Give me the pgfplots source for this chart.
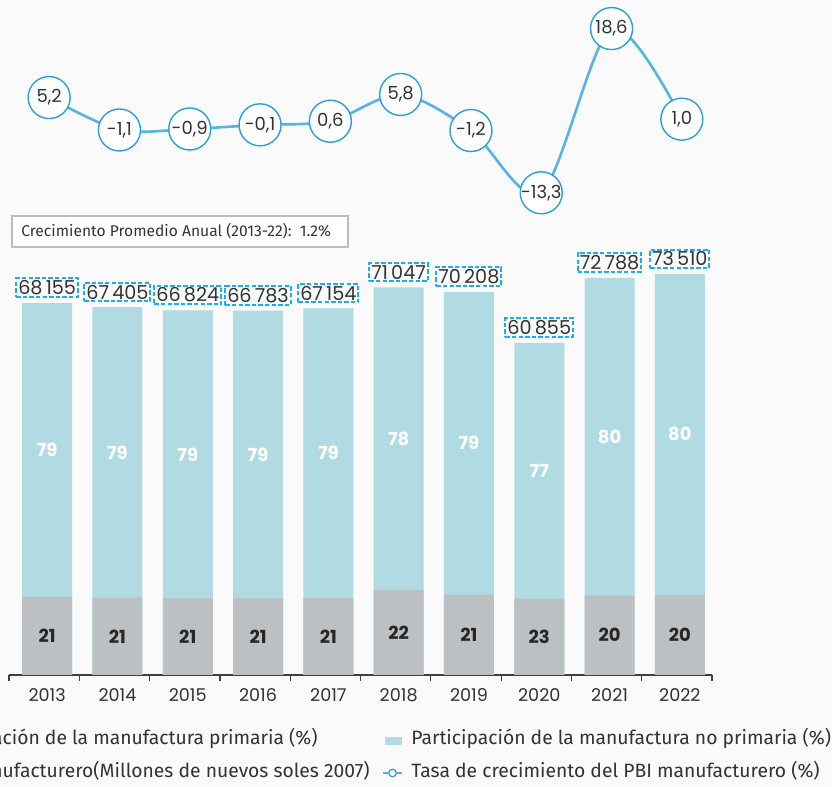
\documentclass[border=0pt]{standalone}
\usepackage{fontspec}
\setmainfont{Fira Sans}
\newfontfamily\numfont{Poppins}
\usepackage{pgfplots}
\usepackage{pgfplotstable}
\pgfplotsset{compat=1.18}

\definecolor{bgc}{HTML}{FAFAFA}
\definecolor{nopri}{HTML}{B0DBE3}
\definecolor{pri}{HTML}{BCC0C3}
\definecolor{boxblue}{HTML}{1AAEEF}
\definecolor{linblue}{HTML}{56B4E5}
\definecolor{circblue}{HTML}{2A9FDC}
\definecolor{txt}{HTML}{333333}
\definecolor{frame}{HTML}{BDBDBD}

% PBI manufacturero y participaciones (%)
\pgfplotstableread{
idx pbi   pbilab   pp np
0   68155 68\,155  21 79
1   67405 67\,405  21 79
2   66824 66\,824  21 79
3   66783 66\,783  21 79
4   67154 67\,154  21 79
5   71047 71\,047  22 78
6   70208 70\,208  21 79
7   60855 60\,855  23 77
8   72788 72\,788  20 80
9   73510 73\,510  20 80
}\bars

% tasa de crecimiento (%)
\pgfplotstableread{
idx tasa  lab
0   5.2   5,2
1   -1.1  -1,1
2   -0.9  -0,9
3   -0.1  -0,1
4   0.6   0,6
5   5.8   5,8
6   -1.2  -1,2
7   -13.3 -13,3
8   18.6  18,6
9   1.0   1,0
}\tasa

\begin{document}
\begin{tikzpicture}
\fill[bgc] (0,0) rectangle (416pt,393.5pt);

% barras
\begin{axis}[
    at={(4.5pt,56pt)}, anchor=south west,
    scale only axis, width=351.5pt, height=218.3pt,
    xmin=-0.5, xmax=9.5, ymin=0, ymax=80000,
    axis x line*=bottom, axis y line=none,
    x axis line style={draw=black!75, line width=0.6pt, -},
    xtick={0,...,9},
    xticklabels={2013,2014,2015,2016,2017,2018,2019,2020,2021,2022},
    major x tick style={draw=none},
    minor xtick={-0.5,0.5,...,9.5},
    minor tick length=3pt, tick align=outside, xtick pos=bottom,
    minor x tick style={draw=black!75, line width=0.6pt},
    xticklabel style={font=\numfont\fontsize{8.8}{10}\selectfont, text=txt,
        anchor=center, xshift=1.5pt, yshift=-5.8pt},
    clip=false,
]
\addplot[ybar, bar width=25pt, bar shift=1.5pt, fill=nopri, draw=none]
    table[x=idx, y=pbi]{\bars};
\addplot[ybar, bar width=25pt, bar shift=1.5pt, fill=pri, draw=none]
    table[x=idx, y expr=\thisrow{pbi}*\thisrow{pp}/100]{\bars};
% etiquetas
\addplot[only marks, mark=none, point meta=explicit symbolic, nodes near coords,
    every node near coord/.append style={anchor=south, xshift=1.5pt, yshift=2.5pt,
        draw=boxblue, line width=1pt, dash pattern=on 2.2pt off 1.1pt,
        inner sep=1pt, font=\numfont\fontsize{9.6}{10}\selectfont, text=txt}]
    table[x=idx, y=pbi, meta=pbilab]{\bars};
\addplot[only marks, mark=none, point meta=explicit symbolic, nodes near coords,
    every node near coord/.append style={anchor=center, xshift=1.5pt,
        font=\numfont\bfseries\fontsize{9}{10}\selectfont, text=white}]
    table[x=idx, y expr=\thisrow{pbi}*(\thisrow{pp}+100)/200, meta=np]{\bars};
\addplot[only marks, mark=none, point meta=explicit symbolic, nodes near coords,
    every node near coord/.append style={anchor=center, xshift=1.5pt,
        font=\numfont\bfseries\fontsize{9}{10}\selectfont, text=black!85}]
    table[x=idx, y expr=\thisrow{pbi}*\thisrow{pp}/200, meta=pp]{\bars};
\end{axis}

% linea de crecimiento
\begin{axis}[
    at={(7pt,279.85pt)}, anchor=south west,
    scale only axis, width=351.5pt, height=115.85pt,
    xmin=-0.5, xmax=9.5, ymin=-20, ymax=25,
    hide axis, clip=false,
]
\addplot[linblue, line width=1.3pt, smooth, tension=0.5,
    mark=*, mark size=10.5pt,
    mark options={draw=circblue, fill=white, line width=0.7pt},
    point meta=explicit symbolic, nodes near coords,
    every node near coord/.append style={anchor=center,
        font=\numfont\fontsize{9}{10}\selectfont, text=txt}]
    table[x=idx, y=tasa, meta=lab]{\tasa};
\end{axis}

% recuadro
\draw[frame, fill=white, line width=0.6pt] (6pt,270pt) rectangle (174pt,285.5pt);
\node[anchor=west, inner sep=0pt, text=txt, font=\fontsize{7.8}{9}\selectfont]
    at (10.5pt,277.8pt) {Crecimiento Promedio Anual (2013-22):\ \ 1.2\%};

% leyenda
\node[anchor=base east, inner sep=0pt, text=txt, font=\fontsize{9.65}{11}\selectfont]
    (t1) at (159pt,21pt) {Participación de la manufactura primaria (\%)};
\fill[pri] ([xshift=-13pt,yshift=-2pt]t1.west) rectangle ++(8.5pt,4pt);
\node[anchor=base east, inner sep=0pt, text=txt, font=\fontsize{9.65}{11}\selectfont]
    (t3) at (185pt,4.5pt) {PBI manufacturero(Millones de nuevos soles 2007)};
\draw[boxblue, line width=0.8pt, dash pattern=on 1.5pt off 0.8pt]
    ([xshift=-13pt,yshift=-2pt]t3.west) rectangle ++(8.5pt,4pt);
\fill[nopri] (192.5pt,21pt) rectangle (201pt,25pt);
\node[anchor=base west, inner sep=0pt, text=txt, font=\fontsize{9.65}{11}\selectfont]
    at (205.5pt,21pt) {Participación de la manufactura no primaria (\%)};
\draw[linblue, line width=1pt] (191.5pt,7pt) -- (201pt,7pt);
\draw[circblue, fill=white, line width=0.6pt] (196.25pt,7pt) circle (1.9pt);
\node[anchor=base west, inner sep=0pt, text=txt, font=\fontsize{9.65}{11}\selectfont]
    at (205.5pt,4.5pt) {Tasa de crecimiento del PBI manufacturero (\%)};

\pgfresetboundingbox
\useasboundingbox (0,0) rectangle (416pt,393.5pt);
\end{tikzpicture}
\end{document}
